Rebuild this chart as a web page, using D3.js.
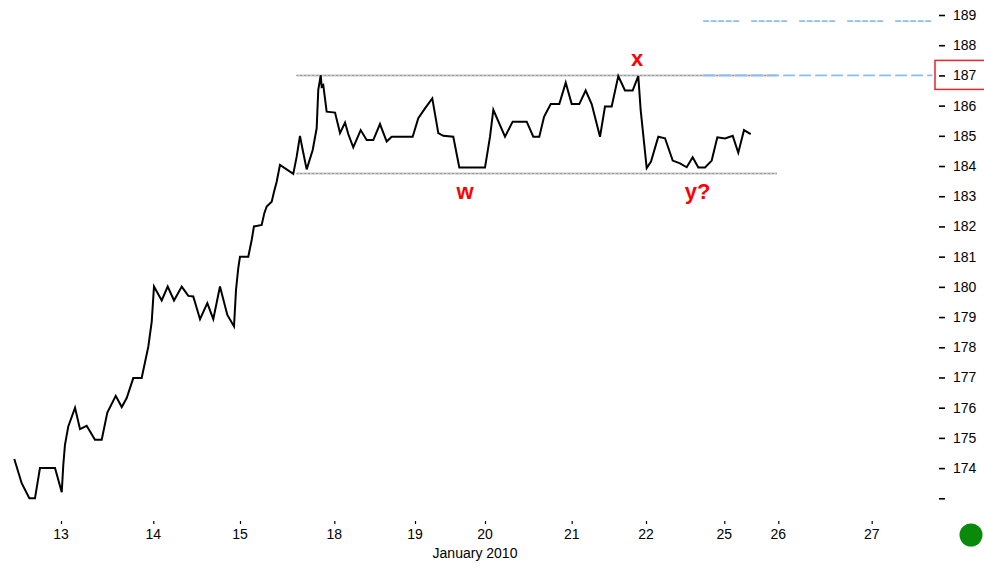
<!DOCTYPE html>
<html>
<head>
<meta charset="utf-8">
<script src="https://cdn.jsdelivr.net/npm/d3@7"></script>
<style>
  html, body { margin: 0; padding: 0; background: #fff; }
  svg { display: block; }
  text { font-family: "Liberation Sans", Arial, sans-serif; }
</style>
</head>
<body>
<svg id="chart" width="984" height="567"></svg>
<script>
// ---------- DATA ----------
// x positions are expressed as trading-day index (0 = Jan 13, 1 = Jan 14, ... 10 = Jan 27)
const dayLabels = ["13","14","15","18","19","20","21","22","25","26","27"];
const axisTitle = "January 2010";

const timeIdx = [
  -0.506,-0.426,-0.343,-0.282,-0.228,-0.065,0.008,0.025,0.043,0.079,
  0.152,0.206,0.278,0.368,0.441,0.502,0.593,0.658,0.712,0.783,
  0.874,0.946,0.983,1.008,1.097,1.166,1.239,1.328,1.404,1.461,
  1.539,1.623,1.692,1.769,1.854,1.931,1.954,1.980,2.000,2.088,
  2.124,2.148,2.230,2.258,2.283,2.336,2.361,2.389,2.424,2.565,
  2.601,2.636,2.665,2.707,2.771,2.813,2.830,2.856,2.866,2.883,
  2.919,3.009,3.071,3.133,3.173,3.235,3.327,3.401,3.483,3.566,
  3.649,3.711,3.971,4.047,4.143,4.247,4.333,4.404,4.547,4.633,
  5.000,5.058,5.096,5.231,5.319,5.481,5.557,5.626,5.681,5.758,
  5.857,5.931,6.000,6.102,6.188,6.269,6.381,6.448,6.538,6.627,
  6.717,6.820,6.896,6.928,7.009,7.064,7.157,7.243,7.341,7.434,
  7.520,7.596,7.668,7.754,7.839,7.911,8.013,8.156,8.259,8.365,
  8.489
];
const prices = [
  174.30,173.50,173.00,173.00,174.00,174.00,173.20,174.11,174.77,175.38,
  176.00,175.29,175.40,174.94,174.94,175.84,176.39,176.02,176.32,176.98,
  176.98,178.02,178.85,180.01,179.55,180.01,179.55,180.01,179.70,179.68,
  178.93,179.46,178.93,180.01,179.07,178.69,179.90,180.62,181.00,181.00,
  181.55,182.00,182.05,182.44,182.66,182.82,183.15,183.48,184.04,183.74,
  184.31,185.00,184.53,183.89,184.53,185.25,186.52,187.00,186.63,186.68,
  185.80,185.77,185.09,185.44,185.06,184.62,185.19,184.86,184.86,185.39,
  184.81,184.97,184.97,185.58,185.91,186.24,185.09,185.00,184.97,183.95,
  183.95,184.97,185.86,184.97,185.47,185.47,184.97,184.97,185.63,186.05,
  186.05,186.76,186.05,186.05,186.50,186.05,184.97,185.97,185.97,186.98,
  186.50,186.50,186.98,185.86,183.93,184.15,184.97,184.92,184.18,184.09,
  183.96,184.29,183.95,183.95,184.18,184.95,184.91,185.00,184.44,185.19,
  185.06
];

// y-axis ticks
const yTickValues = [173,174,175,176,177,178,179,180,181,182,183,184,185,186,187,188,189];
const yTickLabels = ["","174","175","176","177","178","179","180","181","182","183","184","185","186","187","188","189"];

// range (trading box) lines
const boxLevels = [187.0, 183.75];
const boxStart = 2.60;
const boxEnd = 8.976;

// target (blue dashed) lines
const targetLevels = [188.8, 187.0];
const targetStart = 7.73;
const targetEnd = 10.65;

// wave annotations
const waveText = ["w", "x", "y?"];
const waveIdx = [4.714, 6.879, 7.658];
const waveVal = [182.90, 187.31, 182.90];

// highlighted price label
const highlightValue = 187;

// ---------- LAYOUT ----------
const W = 984, H = 567;
const dayTickPx = [61,153.3,240,334.3,415,485,571.7,646,724.3,778.3,871.7];
const plotTop = 15, plotBottom = 498.3;
const axisX = 939;

const svg = d3.select("#chart");
svg.append("rect").attr("width", W).attr("height", H).attr("fill", "#fff");

const x = d3.scaleLinear().domain(d3.range(dayLabels.length)).range(dayTickPx);
const y = d3.scaleLinear().domain([173, 189]).range([plotBottom, plotTop]);

// ---------- Y AXIS (right) ----------
const yAxis = d3.axisRight(y)
  .tickValues(yTickValues)
  .tickSize(6)
  .tickPadding(8)
  .tickFormat((d, i) => yTickLabels[i]);
const gy = svg.append("g").attr("transform", `translate(${axisX},0)`).call(yAxis);
gy.select(".domain").remove();
gy.selectAll(".tick line").attr("stroke", "#000").attr("stroke-width", 1.6);
gy.selectAll(".tick text")
  .attr("font-family", "Liberation Sans, Arial, sans-serif")
  .attr("font-size", 14)
  .attr("fill", "#000");

// highlight box around 187 label
svg.append("rect")
  .attr("x", axisX - 4)
  .attr("y", y(highlightValue) - 15)
  .attr("width", 60)
  .attr("height", 29)
  .attr("fill", "none")
  .attr("stroke", "#e8252a")
  .attr("stroke-width", 1.5);

// ---------- X AXIS ----------
const xAxis = d3.axisTop(x)
  .tickValues(d3.range(dayLabels.length))
  .tickSize(3)
  .tickFormat("");
const gx = svg.append("g").attr("transform", "translate(0,524)").call(xAxis);
gx.select(".domain").remove();
gx.selectAll(".tick line").attr("stroke", "#000").attr("stroke-width", 1.2);

svg.append("g").selectAll("text")
  .data(dayLabels)
  .join("text")
  .attr("x", (d, i) => x(i))
  .attr("y", 539)
  .attr("text-anchor", "middle")
  .attr("font-size", 14)
  .attr("fill", "#000")
  .text(d => d);

svg.append("text")
  .attr("x", 475)
  .attr("y", 558)
  .attr("text-anchor", "middle")
  .attr("font-size", 14)
  .attr("fill", "#000")
  .text(axisTitle);

// ---------- BOX LINES ----------
svg.append("g").selectAll("line")
  .data(boxLevels)
  .join("line")
  .attr("x1", x(boxStart))
  .attr("x2", x(boxEnd))
  .attr("y1", d => y(d))
  .attr("y2", d => y(d))
  .attr("stroke", "#c4c4c4")
  .attr("stroke-width", 2);
svg.append("g").selectAll("line")
  .data(boxLevels)
  .join("line")
  .attr("x1", x(boxStart))
  .attr("x2", x(boxEnd))
  .attr("y1", d => y(d))
  .attr("y2", d => y(d))
  .attr("stroke", "#6e6e6e")
  .attr("stroke-width", 1)
  .attr("stroke-dasharray", "1,3");

// ---------- TARGET LINES ----------
svg.append("line")
  .attr("x1", x(targetStart)).attr("x2", x(targetEnd))
  .attr("y1", y(targetLevels[0])).attr("y2", y(targetLevels[0]))
  .attr("stroke", "#8cbdf0")
  .attr("stroke-width", 1.8)
  .attr("stroke-dasharray", "6,1.5,6,1.5,6,1.5,6,1.5,6,12");
svg.append("line")
  .attr("x1", x(targetStart)).attr("x2", x(targetEnd))
  .attr("y1", y(targetLevels[1])).attr("y2", y(targetLevels[1]))
  .attr("stroke", "#8cbdf0")
  .attr("stroke-width", 1.8)
  .attr("stroke-dasharray", "12,4");

// ---------- PRICE LINE ----------
const pts = timeIdx.map((t, i) => [t, prices[i]]);
const line = d3.line().x(d => x(d[0])).y(d => y(d[1]));
svg.append("path")
  .datum(pts)
  .attr("d", line)
  .attr("fill", "none")
  .attr("stroke", "#000")
  .attr("stroke-width", 2)
  .attr("stroke-linejoin", "miter");

// ---------- WAVE LABELS ----------
svg.append("g").selectAll("text")
  .data(waveText)
  .join("text")
  .attr("x", (d, i) => x(waveIdx[i]))
  .attr("y", (d, i) => y(waveVal[i]))
  .attr("text-anchor", "middle")
  .attr("font-size", 22)
  .attr("font-weight", "bold")
  .attr("fill", "#ff0000")
  .text(d => d);

// ---------- STATUS DOT ----------
svg.append("circle")
  .attr("cx", 971).attr("cy", 535).attr("r", 11.5)
  .attr("fill", "#0a8a0a");
</script>
</body>
</html>
